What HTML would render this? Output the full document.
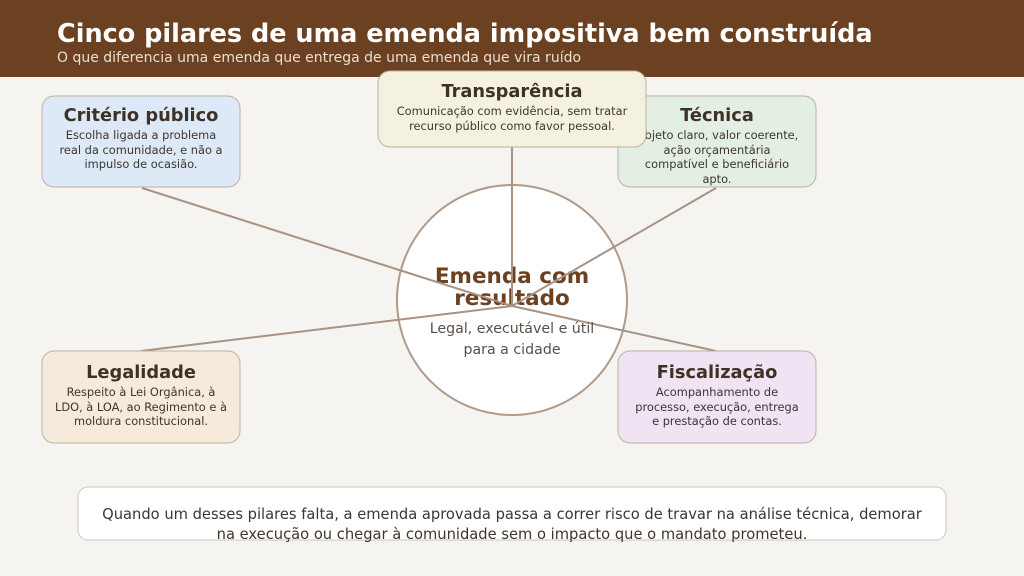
<!DOCTYPE html>
<html><head><meta charset="utf-8"><style>
body{margin:0;width:1024px;height:576px;overflow:hidden;background:#f6f4f0;}
svg{display:block;font-family:"DejaVu Sans","Liberation Sans",sans-serif;}
</style></head><body>
<svg width="1024" height="576" viewBox="0 0 1024 576">
<rect width="1024" height="576" fill="#f6f4f0"/>
<rect width="1024" height="77" fill="#6b4121"/>
<text x="57" y="42" font-size="25.5" font-weight="bold" fill="#fff">Cinco pilares de uma emenda impositiva bem construída</text>
<text x="57" y="62" font-size="14" fill="#eadfd2">O que diferencia uma emenda que entrega de uma emenda que vira ruído</text>

<circle cx="512" cy="300" r="115" fill="#fff" stroke="#b09a88" stroke-width="2"/>
<text x="512" y="283" font-size="21.5" font-weight="bold" fill="#6b4121" text-anchor="middle">Emenda com</text>
<text x="512" y="305" font-size="21.5" font-weight="bold" fill="#6b4121" text-anchor="middle">resultado</text>
<g stroke="#a89282" stroke-width="2">
<line x1="512" y1="306" x2="142" y2="188"/>
<line x1="512" y1="306" x2="512" y2="147"/>
<line x1="512" y1="306" x2="716" y2="188"/>
<line x1="512" y1="306" x2="141" y2="351"/>
<line x1="512" y1="306" x2="716" y2="351"/>
</g>
<text x="512" y="333" font-size="14.2" fill="#5a4f48" text-anchor="middle">Legal, executável e útil</text>
<text x="512" y="354" font-size="14.2" fill="#5a4f48" text-anchor="middle">para a cidade</text>

<g font-size="11.4" fill="#3e3530" text-anchor="middle">
<rect x="42" y="96" width="198" height="91" rx="12" fill="#dde9f6" stroke="#bdb1a5"/>
<text x="141" y="121" font-size="17.8" font-weight="bold" fill="#3e3126">Critério público</text>
<text x="141" y="139">Escolha ligada a problema</text>
<text x="141" y="154">real da comunidade, e não a</text>
<text x="141" y="168">impulso de ocasião.</text>

<rect x="618" y="96" width="198" height="91" rx="12" fill="#e4efe3" stroke="#bdb1a5"/>
<text x="717" y="121" font-size="17.8" font-weight="bold" fill="#3e3126">Técnica</text>
<text x="717" y="139">Objeto claro, valor coerente,</text>
<text x="717" y="154">ação orçamentária</text>
<text x="717" y="168">compatível e beneficiário</text>
<text x="717" y="183">apto.</text>

<rect x="378" y="71" width="268" height="76" rx="12" fill="#f4f2df" stroke="#bdb1a5"/>
<text x="512" y="97" font-size="17.8" font-weight="bold" fill="#3e3126">Transparência</text>
<text x="512" y="115">Comunicação com evidência, sem tratar</text>
<text x="512" y="130">recurso público como favor pessoal.</text>

<rect x="42" y="351" width="198" height="92" rx="12" fill="#f6eadb" stroke="#bdb1a5"/>
<text x="141" y="378" font-size="17.8" font-weight="bold" fill="#3e3126">Legalidade</text>
<text x="141" y="396">Respeito à Lei Orgânica, à</text>
<text x="141" y="411">LDO, à LOA, ao Regimento e à</text>
<text x="141" y="425">moldura constitucional.</text>

<rect x="618" y="351" width="198" height="92" rx="12" fill="#efe3f4" stroke="#bdb1a5"/>
<text x="717" y="378" font-size="17.8" font-weight="bold" fill="#3e3126">Fiscalização</text>
<text x="717" y="396">Acompanhamento de</text>
<text x="717" y="411">processo, execução, entrega</text>
<text x="717" y="425">e prestação de contas.</text>
</g>

<rect x="78" y="487" width="868" height="53" rx="10" fill="#fff" stroke="#cfc4ba"/>
<text x="512" y="519" font-size="14.7" fill="#3e3530" text-anchor="middle">Quando um desses pilares falta, a emenda aprovada passa a correr risco de travar na análise técnica, demorar</text>
<text x="512" y="539" font-size="14.7" fill="#3e3530" text-anchor="middle">na execução ou chegar à comunidade sem o impacto que o mandato prometeu.</text>
</svg>
</body></html>
